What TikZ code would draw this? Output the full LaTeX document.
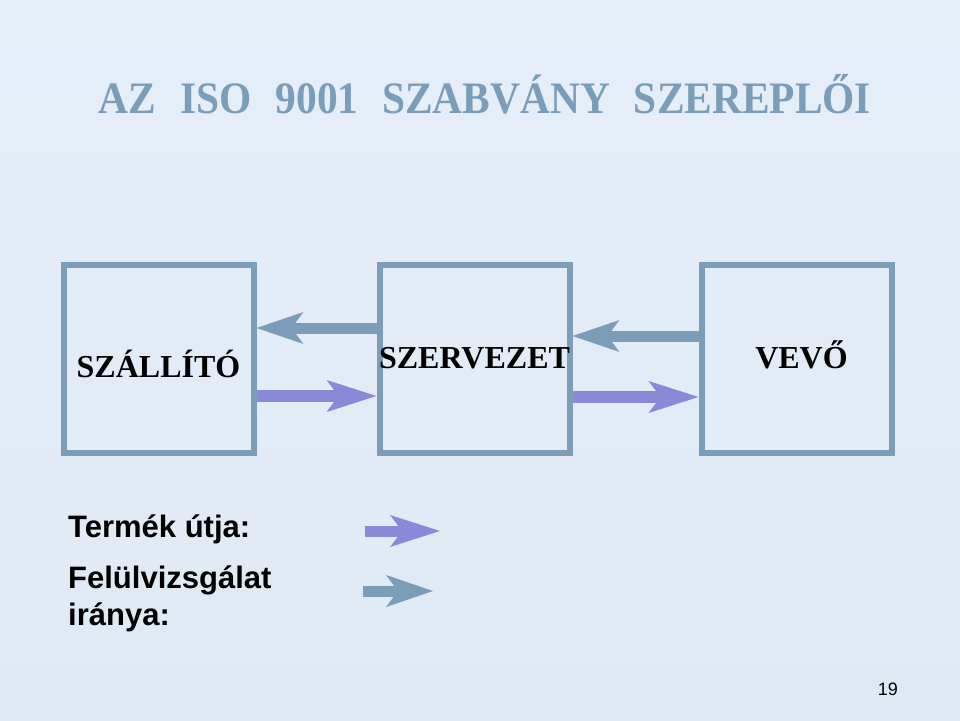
\documentclass[tikz,border=0pt]{standalone}
\usepackage{fontspec}
\setmainfont{Liberation Serif}
\newfontfamily\legendfont{Liberation Sans}
\usepackage{xcolor}
\usetikzlibrary{positioning,calc,arrows.meta}
\definecolor{steel}{HTML}{7B9DB8}
\definecolor{lilac}{HTML}{8C88D8}
\definecolor{slidetop}{HTML}{E6EEF8}
\definecolor{slidebot}{HTML}{DFE9F4}
\newcommand{\wordgap}{\hspace{26pt}}

\begin{document}
\begin{tikzpicture}[x=1pt,y=-1pt,
    actor/.style={draw=steel, line width=6pt, minimum width=190pt, minimum height=188pt},
    actorname/.style={anchor=base, inner sep=0pt, font=\fontsize{32}{38}\selectfont\bfseries},
    product/.style={draw=lilac, line width=12pt, -{Stealth[length=50pt,width=32pt,inset=12pt,line width=0pt]}},
    audit/.style={draw=steel, line width=11pt, -{Stealth[length=47pt,width=32pt,inset=12pt,line width=0pt]}},
    legend/.style={anchor=base west, inner sep=0pt, font=\fontsize{31}{37}\selectfont\legendfont\bfseries}]
    \shade[top color=slidetop, bottom color=slidebot] (0,0) rectangle (960,720);

    \node[anchor=base, inner sep=0pt, text=steel, font=\fontsize{45}{54}\selectfont\bfseries] (title) at (485,113)
        {\scalebox{0.92}[1]{AZ\wordgap ISO\wordgap 9001\wordgap SZABVÁNY\wordgap SZEREPLŐI}};

    % the three parties
    \node[actor] (szallito) at (158.5,359) {};
    \node[actor, right=120pt of szallito] (szervezet) {};
    \node[actor, right=126pt of szervezet] (vevo) {};
    \node[actorname] at ([yshift=-18pt]szallito.center) {SZÁLLÍTÓ};
    \node[actorname] at ([yshift=-9pt]szervezet.center) {SZERVEZET};
    \node[actorname] at ([xshift=5pt,yshift=-9pt]vevo.center) {VEVŐ};

    \draw[audit] ([yshift=31pt]szervezet.west) -- ([yshift=31pt]szallito.east);
    \draw[product] ([yshift=-37pt]szallito.east) -- ([yshift=-37pt]szervezet.west);
    \draw[audit] ([yshift=23pt]vevo.west) -- ([yshift=23pt]szervezet.east);
    \draw[product] ([yshift=-38pt]szervezet.east) -- ([yshift=-38pt]vevo.west);

    % legend
    \node[legend] (termek) at (68,537) {Termék útja:};
    \node[legend] (felul) at (68,588) {Felülvizsgálat};
    \node[legend] (iranya) at ([yshift=-37pt]felul.base west) {iránya:};
    \coordinate (prodstart) at (365,531);
    \coordinate (prodend) at (440,531);
    \coordinate (auditstart) at (363,591);
    \coordinate (auditend) at (433,591);
    \draw[product, line width=11pt] (prodstart) -- (prodend);
    \draw[audit] (auditstart) -- (auditend);

    \node[anchor=base east, inner sep=0pt, font=\fontsize{18}{22}\selectfont\legendfont] (page) at (898,695) {19};
\end{tikzpicture}
\end{document}
